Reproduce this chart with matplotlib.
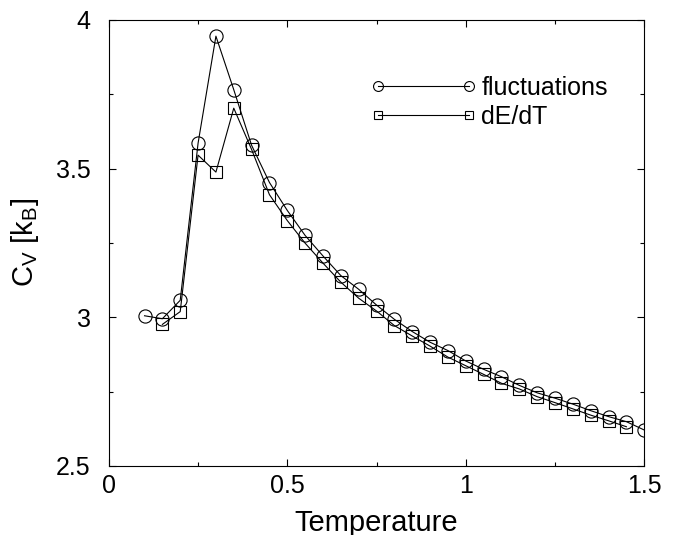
import matplotlib
matplotlib.use('Agg')
import matplotlib.pyplot as plt
from matplotlib.ticker import MultipleLocator

plt.rcParams['font.family'] = ['Liberation Sans', 'DejaVu Sans']
plt.rcParams['mathtext.fontset'] = 'custom'
plt.rcParams['mathtext.rm'] = 'Liberation Sans'

# fluctuations: T = 0.10 ... 1.50
t_fluct = [0.10, 0.15, 0.20, 0.25, 0.30, 0.35, 0.40, 0.45, 0.50, 0.55,
           0.60, 0.65, 0.70, 0.75, 0.80, 0.85, 0.90, 0.95, 1.00, 1.05,
           1.10, 1.15, 1.20, 1.25, 1.30, 1.35, 1.40, 1.45, 1.50]
cv_fluct = [3.005, 2.995, 3.057, 3.585, 3.945, 3.765, 3.578, 3.453, 3.359, 3.275,
            3.206, 3.140, 3.094, 3.041, 2.993, 2.952, 2.916, 2.888, 2.853, 2.825,
            2.800, 2.771, 2.746, 2.728, 2.708, 2.686, 2.666, 2.649, 2.621]

# dE/dT: T = 0.15 ... 1.45
t_dedt = [0.15, 0.20, 0.25, 0.30, 0.35, 0.40, 0.45, 0.50, 0.55, 0.60,
          0.65, 0.70, 0.75, 0.80, 0.85, 0.90, 0.95, 1.00, 1.05, 1.10,
          1.15, 1.20, 1.25, 1.30, 1.35, 1.40, 1.45]
cv_dedt = [2.976, 3.019, 3.545, 3.488, 3.703, 3.564, 3.412, 3.325, 3.249, 3.182,
           3.118, 3.064, 3.021, 2.972, 2.937, 2.903, 2.866, 2.837, 2.808, 2.778,
           2.759, 2.733, 2.713, 2.692, 2.671, 2.652, 2.632]

fig = plt.figure(figsize=(6.76, 5.35), dpi=100)
ax = fig.add_axes([0.161, 0.129, 0.792, 0.834])

ax.plot(t_fluct, cv_fluct, color='black', lw=0.8, marker='o', ms=9.5,
        mfc='none', mec='black', mew=0.8, label='fluctuations')
ax.plot(t_dedt, cv_dedt, color='black', lw=0.8, marker='s', ms=8,
        mfc='none', mec='black', mew=0.8, label='dE/dT')

ax.set_xlim(0, 1.5)
ax.set_ylim(2.5, 4)
ax.set_xticks([0, 0.5, 1, 1.5])
ax.set_xticklabels(['0', '0.5', '1', '1.5'])
ax.set_yticks([2.5, 3, 3.5, 4])
ax.set_yticklabels(['2.5', '3', '3.5', '4'])
ax.xaxis.set_minor_locator(MultipleLocator(0.25))
ax.yaxis.set_minor_locator(MultipleLocator(0.25))
ax.tick_params(which='both', direction='in', top=True, right=True, labelsize=18, width=0.8)
ax.tick_params(axis='x', which='major', pad=6)
ax.tick_params(axis='y', which='major', pad=13)
ax.tick_params(which='major', length=5)
ax.tick_params(which='minor', length=3)
for s in ax.spines.values():
    s.set_linewidth(0.8)

ax.set_xlabel('Temperature', fontsize=21, labelpad=8)
ax.set_ylabel(r'C$_\mathregular{V}$ [k$_\mathregular{B}$]', fontsize=21, labelpad=11)

ax.legend(loc='upper left', bbox_to_anchor=(370 / 676, 1 - 76 / 535), bbox_transform=fig.transFigure,
          frameon=False, numpoints=2, markerscale=0.75, borderpad=0, borderaxespad=0,
          handlelength=4.25, fontsize=18, labelspacing=0.2, handletextpad=0.2)

fig.savefig('out.png', dpi=100)
